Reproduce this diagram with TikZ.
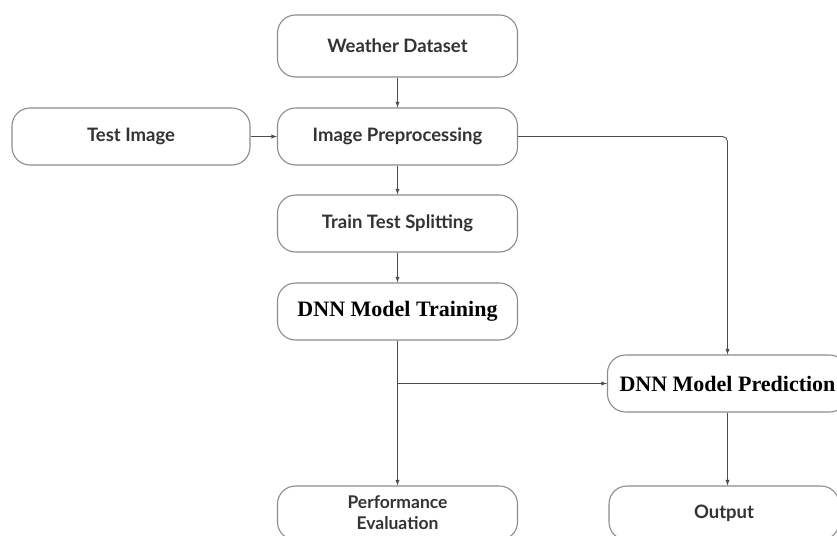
\documentclass[tikz,border=0pt]{standalone}
\usepackage{fontspec}
\setmainfont{Liberation Serif}
\setsansfont{Lato}
\usepackage{tikz}
\usetikzlibrary{scopes}

\begin{document}
\begin{tikzpicture}[x=1pt,y=-1pt,
      box/.style={draw=black!45,line width=1.1pt,rounded corners=18pt,fill=white,
                  minimum width=240pt,minimum height=57pt,align=center,
                  font=\sffamily\bfseries\fontsize{18.5}{24}\selectfont,text=black!80},
      dnn/.style={box,font=\rmfamily\bfseries\fontsize{22}{24}\selectfont,text=black},
      flow/.style={>=latex,draw=black!70,line width=0.9pt}
]
      \useasboundingbox (0,0) rectangle (837,535);
      \clip (0,0) rectangle (837,535);
      % left column
      \node[box,minimum height=62pt] at (397.5,46) (data) {Weather Dataset};
      \node[box] at (397.5,136.5) (prep) {Image Preprocessing};
      \node[box,minimum width=238pt] at (131,136.5) (test) {Test Image};
      \node[box] at (397.5,223.5) (split) {Train Test Splitting};
      \node[dnn] at (397.5,311.5) (train) {DNN Model Training};
      \node[box,minimum height=54pt,inner sep=2pt,font=\sffamily\bfseries\fontsize{17.5}{21}\selectfont] at (397.5,513) (eval) {Performance\\Evaluation};
      % right column
      \node[dnn] at (727.5,383.5) (pred) {DNN Model Prediction};
      \node[box,minimum width=230pt,minimum height=54pt] at (724,513) (out) {Output};
      \coordinate (branch) at (train.south |- pred.west);
      {[flow,->]
          \draw (data) -- (prep);
          \draw (test) -- (prep);
          \draw (prep) -- (split);
          \draw (split) -- (train);
          \draw (train) -- (eval);
          \draw (branch) -- (pred);
          \draw (pred.south) -- (pred.south |- out.north);
          \draw[rounded corners=5pt] (prep.east) -- (pred.north |- prep.east) -- (pred.north);
      }
\end{tikzpicture}
\end{document}
